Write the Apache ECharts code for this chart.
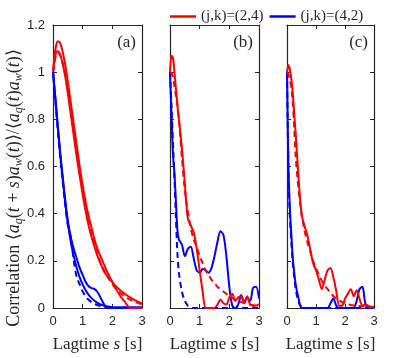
<!DOCTYPE html>
<html>
<head>
<meta charset="utf-8">
<script src="https://cdn.jsdelivr.net/npm/echarts@6/dist/echarts.min.js"></script>
<style>
  html, body { margin: 0; padding: 0; background: #fff; }
  #chart { width: 415px; height: 358px; }
</style>
</head>
<body>
<div id="chart"></div>
<script>
// lag time grid [s]
const lag = [0, 0.05, 0.1, 0.15, 0.2, 0.25, 0.3, 0.4, 0.5, 0.6, 0.7, 0.8, 0.9, 1.0, 1.1, 1.2, 1.3, 1.4, 1.5, 1.6, 1.7,
  1.8, 1.9, 2.0, 2.1, 2.2, 2.3, 2.4, 2.5, 2.6, 2.7, 2.8, 2.9, 3.0];

// panel (a)
const aRed1 = [1.0, 1.07, 1.11, 1.13, 1.13, 1.12, 1.1, 1.04, 0.96, 0.87, 0.78, 0.69, 0.6, 0.52, 0.45, 0.39, 0.34, 0.29, 0.25, 0.22, 0.19,
  0.16, 0.135, 0.11, 0.085, 0.065, 0.045, 0.03, 0.012, 0, 0, 0, 0, 0];
const aRed2 = [1.0, 1.05, 1.08, 1.09, 1.085, 1.07, 1.05, 0.99, 0.91, 0.82, 0.73, 0.64, 0.56, 0.48, 0.41, 0.35, 0.3, 0.26, 0.22, 0.19, 0.16,
  0.14, 0.125, 0.11, 0.095, 0.083, 0.072, 0.062, 0.053, 0.045, 0.038, 0.031, 0.025, 0.02];
const aRedFit = [1.0, 1.04, 1.07, 1.08, 1.08, 1.07, 1.05, 1.0, 0.93, 0.84, 0.75, 0.66, 0.58, 0.5, 0.43, 0.37, 0.31, 0.27, 0.23, 0.19, 0.165,
  0.14, 0.12, 0.1, 0.085, 0.072, 0.06, 0.05, 0.042, 0.035, 0.029, 0.024, 0.02, 0.016];
const aBlue1 = [1.0, 0.93, 0.86, 0.79, 0.72, 0.65, 0.59, 0.47, 0.37, 0.3, 0.25, 0.21, 0.17, 0.14, 0.11, 0.092, 0.084, 0.08, 0.068, 0.045, 0.02,
  0.003, 0, 0, 0, 0, 0, 0, 0, 0, 0, 0, 0, 0];
const aBlue2 = [1.0, 0.93, 0.86, 0.78, 0.71, 0.64, 0.58, 0.46, 0.36, 0.28, 0.22, 0.17, 0.13, 0.1, 0.075, 0.056, 0.042, 0.031, 0.022, 0.015, 0.01,
  0.007, 0.005, 0.004, 0.003, 0.003, 0.003, 0.003, 0.003, 0.003, 0.003, 0.003, 0.003, 0.003];
const aBlueFit = [1.0, 0.92, 0.85, 0.77, 0.7, 0.63, 0.57, 0.45, 0.35, 0.3, 0.2, 0.13, 0.1, 0.07, 0.05, 0.035, 0.025, 0.018, 0.012, 0.008, 0.005,
  0.003, 0, 0, 0, 0, 0, 0, 0, 0, 0, 0, 0, 0];

// panel (b)
const bRed = [1.0, 1.07, 1.06, 1.0, 0.93, 0.86, 0.8, 0.68, 0.53, 0.38, 0.35, 0.32, 0.25, 0.16, 0.07, 0, 0, 0, 0, 0.015, 0.035,
  0.02, 0.015, 0.045, 0.06, 0.03, 0.045, 0.05, 0.025, 0.05, 0.015, 0.01, 0.01, 0.015];
const bRedFit = [1.0, 0.995, 0.98, 0.94, 0.9, 0.86, 0.8, 0.64, 0.5, 0.41, 0.34, 0.29, 0.26, 0.22, 0.19, 0.16, 0.14, 0.12, 0.105, 0.09, 0.08,
  0.07, 0.06, 0.05, 0.042, 0.035, 0.03, 0.025, 0.021, 0.018, 0.015, 0.012, 0.01, 0.008];
const bBlue = [1.0, 0.82, 0.65, 0.57, 0.45, 0.33, 0.29, 0.27, 0.22, 0.25, 0.26, 0.21, 0.16, 0.15, 0.165, 0.16, 0.15, 0.17, 0.22, 0.28, 0.325,
  0.31, 0.22, 0.09, 0.01, 0, 0.015, 0.055, 0.02, 0.045, 0.03, 0.085, 0.09, 0.04];
const bBlueFit = [1.0, 0.86, 0.7, 0.55, 0.38, 0.23, 0.15, 0.07, 0.03, 0.01, 0.003, 0, 0, 0, 0, 0, 0, 0, 0, 0, 0,
  0, 0, 0, 0, 0, 0, 0, 0, 0, 0, 0, 0, 0];

// panel (c)
const cRed = [1.0, 1.03, 1.01, 0.97, 0.91, 0.82, 0.74, 0.55, 0.4, 0.35, 0.31, 0.25, 0.19, 0.16, 0.12, 0.08, 0.12, 0.16, 0.17, 0.13, 0.07,
  0.01, 0.01, 0.04, 0.06, 0.08, 0.05, 0.075, 0.04, 0.01, 0.015, 0.01, 0.005, 0.005];
const cRedFit = [1.0, 0.99, 0.97, 0.93, 0.87, 0.76, 0.64, 0.5, 0.4, 0.33, 0.28, 0.24, 0.2, 0.17, 0.14, 0.115, 0.095, 0.08, 0.065, 0.05, 0.04,
  0.032, 0.025, 0.02, 0.016, 0.013, 0.011, 0.009, 0.008, 0.007, 0.006, 0.005, 0.004, 0.003];
const cBlue = [1.0, 0.6, 0.42, 0.31, 0.21, 0.15, 0.1, 0.04, 0, 0, 0, 0, 0, 0, 0, 0, 0, 0, 0.02, 0.04, 0.01,
  0, 0, 0, 0, 0, 0, 0.03, 0.08, 0.09, 0.02, 0, 0, 0];
const cBlueFit = [1.0, 0.57, 0.39, 0.28, 0.19, 0.13, 0.08, 0.025, 0.005, 0, 0, 0, 0, 0, 0, 0, 0, 0, 0, 0, 0,
  0, 0, 0, 0, 0, 0, 0, 0, 0, 0, 0, 0, 0];

const xTicks = ['0', '1', '2', '3'];
const panelNames = ['(a)', '(b)', '(c)'];
const nameRed = '(j,k)=(2,4)';
const nameBlue = '(j,k)=(4,2)';

const axisColor = '#262626';
const grids = [
  {left: 53, top: 25, width: 89, height: 290},
  {left: 170, top: 25, width: 89, height: 290},
  {left: 287, top: 25, width: 87, height: 290}
];

let myChart = echarts.init(document.getElementById('chart'));

function pairs(arr) {
  return lag.map(function (s, i) { return [s, arr[i]]; });
}

let xAxes = [];
let yAxes = [];
for (let i = 0; i < 3; i++) {
  let common = {
    gridIndex: i,
    type: 'value',
    min: 0, max: 3, interval: 1,
    splitLine: {show: false},
    axisLine: {show: true, onZero: false, lineStyle: {color: axisColor, width: 1.2}},
    axisTick: {show: true, inside: true, length: 4, lineStyle: {color: axisColor}}
  };
  xAxes.push(Object.assign({}, common, {
    position: 'bottom',
    axisLabel: {
      color: axisColor, fontFamily: 'Liberation Sans', fontSize: 13, margin: 7,
      formatter: function (v) { return xTicks[Math.round(v)]; }
    },
    name: '{t|Lagtime }{i|s}{t| [s]}',
    nameLocation: 'middle',
    nameGap: 28,
    nameTextStyle: {
      rich: {
        t: {fontFamily: 'Liberation Serif', fontSize: 17, color: axisColor},
        i: {fontFamily: 'Liberation Serif', fontStyle: 'italic', fontSize: 17, color: axisColor}
      }
    }
  }));
  xAxes.push(Object.assign({}, common, {position: 'top', axisLabel: {show: false}}));

  let ycommon = {
    gridIndex: i,
    type: 'value',
    min: 0, max: 1.2, interval: 0.2,
    splitLine: {show: false},
    axisLine: {show: true, onZero: false, lineStyle: {color: axisColor, width: 1.2}},
    axisTick: {show: true, inside: true, length: 4, lineStyle: {color: axisColor}}
  };
  yAxes.push(Object.assign({}, ycommon, {
    position: 'left',
    axisLabel: {show: i === 0, color: axisColor, fontFamily: 'Liberation Sans', fontSize: 13, margin: 8}
  }));
  yAxes.push(Object.assign({}, ycommon, {position: 'right', axisLabel: {show: false}}));
}

function line(panel, name, color, arr, dashed) {
  return {
    name: name,
    type: 'line',
    xAxisIndex: panel * 2,
    yAxisIndex: panel * 2,
    data: pairs(arr),
    symbol: 'none',
    smooth: 0.3,
    silent: true,
    lineStyle: {color: color, width: 2, type: dashed ? [6, 4] : 'solid'},
    itemStyle: {color: color}
  };
}

const red = '#ff0000';
const blue = '#0000ff';
let seriesData = [
  line(0, nameBlue, blue, aBlue1, false),
  line(0, nameBlue, blue, aBlue2, false),
  line(0, 'blueFitA', blue, aBlueFit, true),
  line(0, nameRed, red, aRed1, false),
  line(0, nameRed, red, aRed2, false),
  line(0, 'redFitA', red, aRedFit, true),
  line(1, nameBlue, blue, bBlue, false),
  line(1, 'blueFitB', blue, bBlueFit, true),
  line(1, nameRed, red, bRed, false),
  line(1, 'redFitB', red, bRedFit, true),
  line(2, nameBlue, blue, cBlue, false),
  line(2, 'blueFitC', blue, cBlueFit, true),
  line(2, nameRed, red, cRed, false),
  line(2, 'redFitC', red, cRedFit, true)
];

let graphics = grids.map(function (g, i) {
  return {
    type: 'text',
    right: 415 - (g.left + g.width) + 6,
    top: g.top + 9,
    style: {text: panelNames[i], font: '17px "Liberation Serif"', fill: axisColor}
  };
});
graphics.push({
  type: 'text',
  x: 14,
  y: 188,
  rotation: Math.PI / 2,
  style: {
    text: 'Correlation ⟨{i|a}{s|q}({i|t} + {i|s}){i|a}{s|w}({i|t})⟩/⟨{i|a}{s|q}({i|t}){i|a}{s|w}({i|t})⟩',
    font: '18px "Liberation Serif"',
    fill: axisColor,
    align: 'center',
    verticalAlign: 'middle',
    rich: {
      i: {fontFamily: 'Liberation Serif', fontStyle: 'italic', fontSize: 18, fill: axisColor, lineHeight: 22},
      s: {fontFamily: 'Liberation Serif', fontStyle: 'italic', fontSize: 12, fill: axisColor, lineHeight: 22, verticalAlign: 'bottom', padding: [7, 0, 0, 0]}
    }
  }
});

let option = {
  backgroundColor: '#fff',
  animation: false,
  legend: {
    left: 165,
    top: 4,
    icon: 'rect',
    itemWidth: 26,
    itemHeight: 2.5,
    itemGap: 6,
    data: [nameRed, nameBlue],
    textStyle: {fontFamily: 'Liberation Serif', fontSize: 15, color: axisColor}
  },
  grid: grids,
  xAxis: xAxes,
  yAxis: yAxes,
  graphic: graphics,
  series: seriesData
};
myChart.setOption(option);
</script>
</body>
</html>
